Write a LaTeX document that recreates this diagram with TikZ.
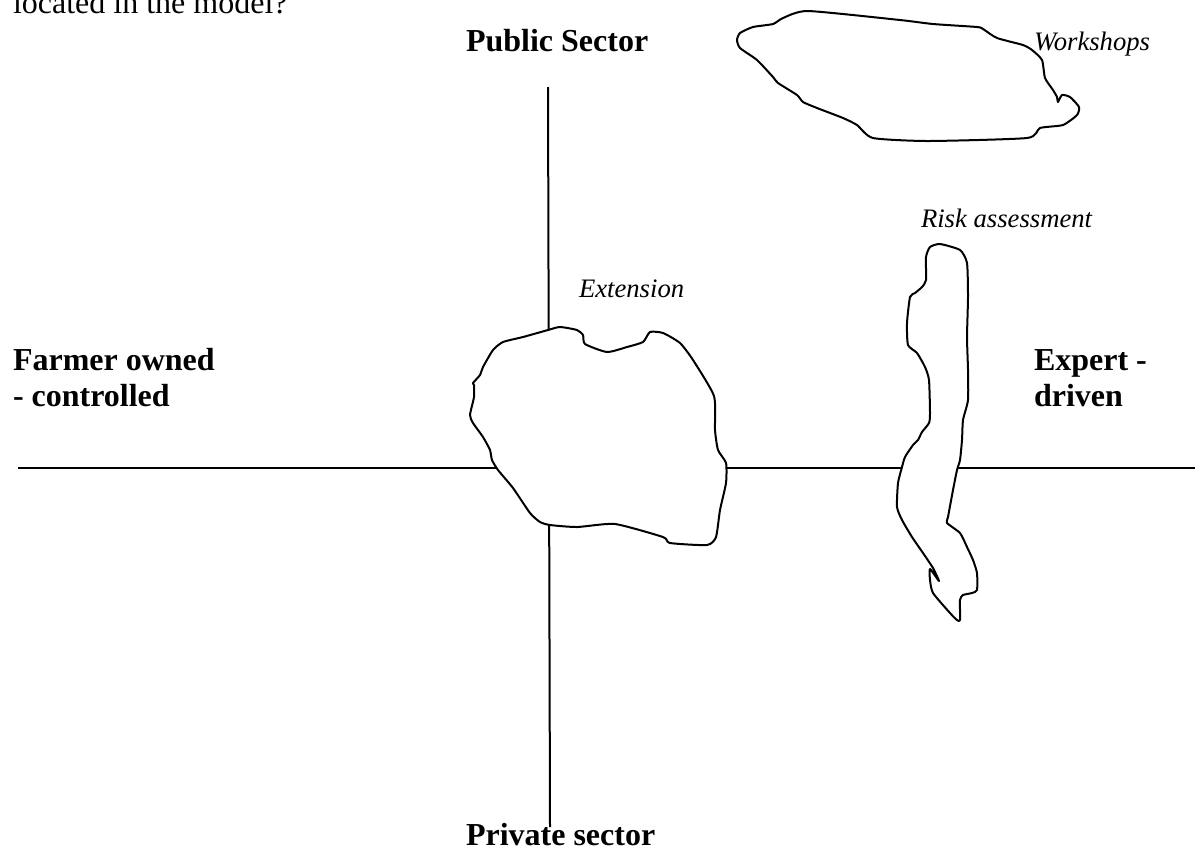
\documentclass[tikz,border=0pt]{standalone}
\usepackage{fontspec}
\setmainfont{Liberation Serif}
\tikzset{
  lbl/.style={inner sep=0, anchor=base west, align=left, font=\fontsize{12}{13.2}\selectfont\bfseries},
  tag/.style={inner sep=0, anchor=base west, font=\fontsize{10}{12}\selectfont\itshape},
  blob/.style={draw, fill=white, line join=round}
}
\begin{document}
\begin{tikzpicture}[x=0.375pt,y=-0.375pt,line width=0.75pt]
\useasboundingbox (0,0) rectangle (1195,849);
\node[lbl, font=\fontsize{12}{13.2}\selectfont] (qst) at (12,13) {located in the model?};
\node[lbl] (pub) at (465,51) {Public Sector};
\node[lbl] (priv) at (465,845) {Private sector};
\node[lbl] (farm) at (12,406) {Farmer owned\\- controlled};
\node[lbl] (expt) at (1033,406) {Expert -\\driven};
\coordinate (ytop) at (548,87);
\coordinate (ybot) at (550,827);
\coordinate (xlft) at (18,468);
\coordinate (xrgt) at (1195,468);
\draw[](ytop) -- (ybot);
\draw[](xlft) -- (xrgt);

\draw[blob] plot[smooth cycle, tension=0.35] coordinates {
  (808,11) (900,20) (933,24) (977,27) (983,29) (997,38) (1023,45) (1032,50)
  (1042,60) (1045,78) (1053,90) (1057,97) (1058,102) (1062,95) (1070,97)
  (1079,107) (1077,115) (1063,125) (1040,128) (1027,138) (928,141) (873,138)
  (857,125) (843,118) (817,108) (803,102) (797,95) (778,83) (773,77) (757,60)
  (740,48) (737,40) (740,33) (753,27) (773,24) (783,18)};
\node[tag] (wks) at (1033,50) {Workshops};

\draw[blob] plot[smooth cycle, tension=0.35] coordinates {
  (548,330) (560,327) (577,330) (583,335) (585,344) (607,352) (627,347)
  (643,342) (650,332) (663,333) (680,343) (693,360) (714,396) (715,430)
  (718,450) (726,463) (726,483) (720,510) (716,537) (707,545) (670,543)
  (663,537) (615,524) (577,527) (550,525) (540,522) (530,513) (513,488)
  (498,470) (492,460) (490,450) (483,437) (473,423) (470,415) (474,397)
  (474,385) (473,383) (480,375) (483,367) (493,350) (503,342) (523,337)};
\node[tag] (ext) at (578,297) {Extension};

\draw[blob] plot[smooth cycle, tension=0.35] coordinates {
  (930,247) (940,244) (960,250) (967,263) (968,297) (967,337) (968,370)
  (968,400) (963,420) (962,440) (960,460) (957,470) (953,490) (948,517)
  (947,523) (960,533) (967,547) (973,560) (977,573) (977,590) (972,593)
  (963,595) (960,600) (960,620) (957,620) (950,613) (933,593) (930,580)
  (930,569) (939,581) (933,568) (923,553) (912,537) (902,520) (897,507)
  (898,483) (902,467) (905,457) (913,445) (918,440) (922,432) (929,423)
  (930,413) (929,380) (925,367) (917,353) (908,345) (907,323) (910,297)
  (915,293) (922,287) (926,280) (926,257)};
\node[tag] (risk) at (920,227) {Risk assessment};
\end{tikzpicture}
\end{document}
